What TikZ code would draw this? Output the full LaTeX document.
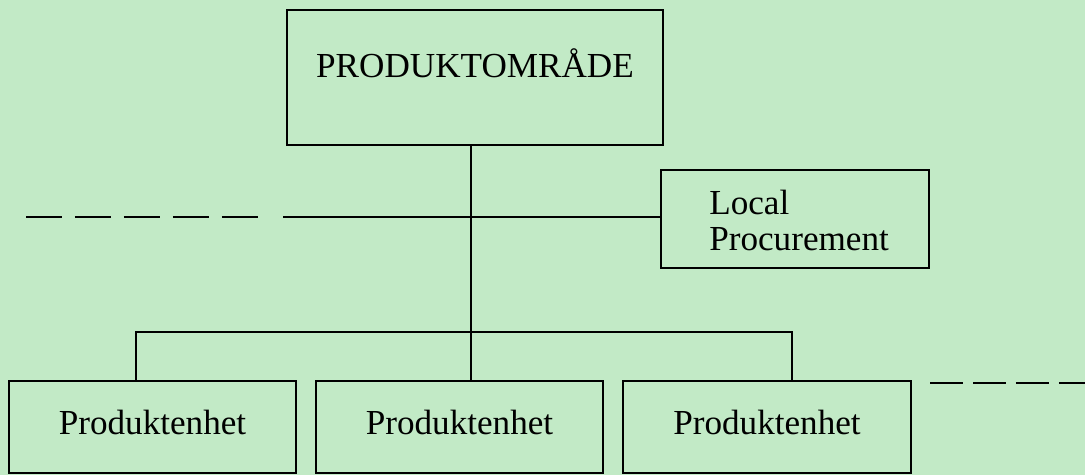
\documentclass[tikz,border=0pt]{standalone}
\usepackage{fontspec}
\setmainfont{Liberation Serif}
\usetikzlibrary{positioning}
\definecolor{paper}{RGB}{194,234,198}
\tikzset{box/.style={draw, line width=1.5pt, inner sep=0pt}}

\begin{document}
\begin{tikzpicture}[x=0.02cm, y=-0.02cm, line width=1.5pt, every node/.style={font=\fontsize{20}{20.5}\selectfont}]
\fill[paper] (0,0) rectangle (1085,475);
\useasboundingbox (0,0) rectangle (1085,475);

\node[box, minimum width=7.52cm, minimum height=2.7cm, text height=13pt, text depth=13pt] (omr) at (475, 77.5) {PRODUKTOMRÅDE};
\node[box, minimum width=5.36cm, minimum height=1.96cm] (lp) at (795, 219) {};
\node[anchor=base west, align=left, inner sep=0pt] (lptext) at (708, 251) {Local\\Procurement};

\node[box, minimum width=5.74cm, minimum height=1.84cm, text height=14pt, text depth=5pt] (pe1) at (152.5, 427) {Produktenhet};
\node[box, minimum width=5.74cm, minimum height=1.84cm, text height=14pt, text depth=5pt] (pe2) at (459.5, 427) {Produktenhet};
\node[box, minimum width=5.76cm, minimum height=1.84cm, text height=14pt, text depth=5pt] (pe3) at (767, 427) {Produktenhet};

\coordinate (bus) at (471, 332);
\coordinate (bl) at (136, 332);
\coordinate (br) at (792, 332);
\coordinate (cut) at (283, 217);
\coordinate (dl1) at (26, 217);
\coordinate (dl2) at (259, 217);
\coordinate (dr1) at (930, 383);
\coordinate (dr2) at (1085, 383);

\draw (bus |- omr.south) -- (bus |- pe2.north);
\draw (cut) -- (cut -| lp.west);
\draw (bl |- pe1.north) -- (bl) -- (br) -- (br |- pe3.north);
\draw[dash pattern=on 0.72cm off 0.26cm] (dl1) -- (dl2);
\draw[dash pattern=on 0.66cm off 0.2cm] (dr1) -- (dr2);
\end{tikzpicture}
\end{document}
